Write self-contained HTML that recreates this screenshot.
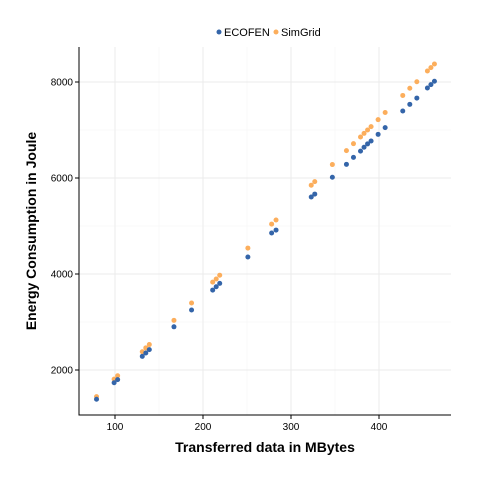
<!DOCTYPE html>
<html><head><meta charset="utf-8"><style>
body{margin:0;background:#fff;}
svg{display:block;font-family:"Liberation Sans",sans-serif;}
</style></head><body>
<svg id="chart" width="480" height="480">
<rect width="480" height="480" fill="#fff"/>
<g id="grid"></g>
<g id="marks"></g>
<g id="axes"></g>
<g>
<circle cx="219" cy="32" r="2.5" fill="#3465a9"/>
<text x="224" y="36" font-size="11" fill="#000">ECOFEN</text>
<circle cx="276" cy="32" r="2.5" fill="#fcae5c"/>
<text x="281" y="36" font-size="11" fill="#000">SimGrid</text>
</g>
<text x="265" y="452" font-size="14" font-weight="bold" text-anchor="middle">Transferred data in MBytes</text>
<text transform="translate(36,231) rotate(-90)" font-size="14" font-weight="bold" text-anchor="middle">Energy Consumption in Joule</text>
</svg>
<script>
const xData=[79,99,103,131,135,139,167,187,211,215,219,251,278,283,323,327,347,363,371,379,383,387,391,399,407,427,435,443,455,459,463];
const ecofen=[1390,1735,1800,2285,2355,2425,2900,3250,3665,3735,3805,4355,4855,4915,5605,5665,6015,6285,6430,6560,6640,6710,6770,6910,7050,7395,7535,7665,7875,7945,8015];
const simgrid=[1445,1810,1880,2380,2460,2530,3035,3395,3830,3895,3975,4540,5040,5125,5850,5925,6280,6570,6715,6855,6930,7000,7070,7215,7365,7720,7870,8005,8230,8300,8375];
const xTicks=[100,200,300,400];
const yTicks=[2000,4000,6000,8000];
const NS="http://www.w3.org/2000/svg";
const X=v=>115+(v-100)*0.88;
const Y=v=>370-(v-2000)*0.048;
const L=79,R=451,T=47,B=415;
const grid=document.getElementById('grid'),marks=document.getElementById('marks'),axes=document.getElementById('axes');
function mk(t,a,p){const e=document.createElementNS(NS,t);for(const k in a)e.setAttribute(k,a[k]);p.appendChild(e);return e;}
[150,250,350].forEach(v=>{const e=mk('line',{x1:X(v),x2:X(v),y1:T,y2:B,stroke:'#f3f3f3','stroke-width':0.6},grid);

});
[3000,5000,7000].forEach(v=>{const e=mk('line',{x1:L,x2:R,y1:Y(v),y2:Y(v),stroke:'#f3f3f3','stroke-width':0.6},grid);

});
xTicks.forEach(v=>{const e=mk('line',{x1:X(v),x2:X(v),y1:T,y2:B,stroke:'#ebebeb','stroke-width':1},grid);


const t=mk('line',{x1:X(v),x2:X(v),y1:B,y2:B+4,stroke:'#000'},axes);


const l=mk('text',{x:X(v),y:B+15,'font-size':10,'text-anchor':'middle',fill:'#000'},axes);l.textContent=v;

});
yTicks.forEach(v=>{const e=mk('line',{x1:L,x2:R,y1:Y(v),y2:Y(v),stroke:'#ebebeb','stroke-width':1},grid);


const t=mk('line',{x1:L-4,x2:L,y1:Y(v),y2:Y(v),stroke:'#000'},axes);


const l=mk('text',{x:L-6,y:Y(v)+3.5,'font-size':10,'text-anchor':'end',fill:'#000'},axes);l.textContent=v;

});
const ax=mk('path',{d:`M${L},${T}V${B}H${R}`,fill:'none',stroke:'#000','stroke-width':1},axes);


xData.forEach((x,i)=>{
const o=mk('circle',{cx:X(x),cy:Y(simgrid[i]),r:2.5,fill:'#fcae5c'},marks);


const b=mk('circle',{cx:X(x),cy:Y(ecofen[i]),r:2.5,fill:'#3465a9'},marks);


});
</script>
</body></html>
